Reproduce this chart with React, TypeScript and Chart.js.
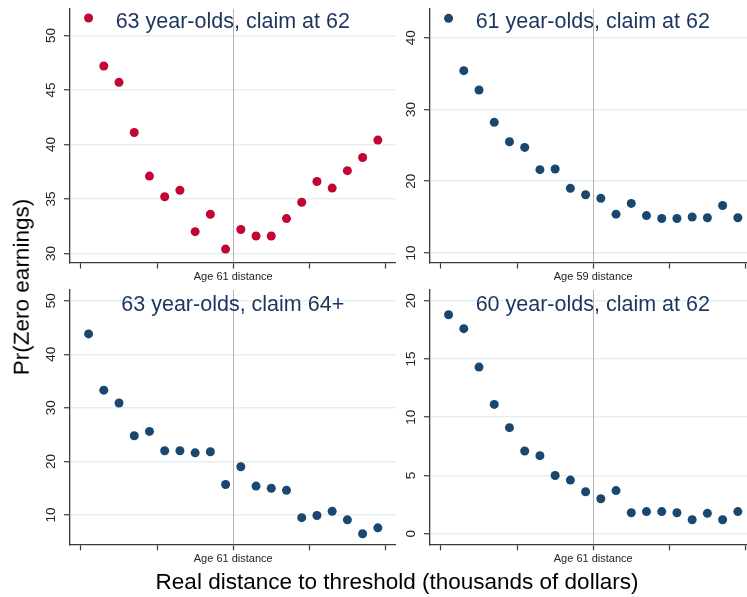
import React, { useEffect, useRef } from "react";
import { Chart, registerables } from "chart.js";

Chart.register(...registerables);

// ---- data ----
const binCenters = [-9.5, -8.5, -7.5, -6.5, -5.5, -4.5, -3.5, -2.5, -1.5, -0.5, 0.5, 1.5, 2.5, 3.5, 4.5, 5.5, 6.5, 7.5, 8.5, 9.5];
const referenceX = 0;

const titles = [
  "63 year-olds, claim at 62",
  "61 year-olds, claim at 62",
  "63 year-olds, claim 64+",
  "60 year-olds, claim at 62",
];
const centerTickLabels = ["Age 61 distance", "Age 59 distance", "Age 61 distance", "Age 61 distance"];

const age63Claim62 = [51.6, 47.2, 45.7, 41.1, 37.1, 35.2, 35.8, 32.0, 33.6, 30.4, 32.2, 31.6, 31.6, 33.2, 34.7, 36.6, 36.0, 37.6, 38.8, 40.4];
const age61Claim62 = [42.7, 35.4, 32.7, 28.2, 25.5, 24.7, 21.6, 21.7, 19.0, 18.1, 17.6, 15.4, 16.9, 15.2, 14.8, 14.8, 15.0, 14.9, 16.6, 14.9];
const age63Claim64 = [43.8, 33.3, 30.9, 24.8, 25.6, 22.0, 22.0, 21.6, 21.8, 15.7, 19.0, 15.4, 15.0, 14.6, 9.5, 9.9, 10.7, 9.1, 6.5, 7.6];
const age60Claim62 = [18.8, 17.6, 14.3, 11.1, 9.1, 7.1, 6.7, 5.0, 4.6, 3.6, 3.0, 3.7, 1.8, 1.9, 1.9, 1.8, 1.2, 1.75, 1.2, 1.9];

const seriesList = [age63Claim62, age61Claim62, age63Claim64, age60Claim62];
const xTickStep = 5;
const yTickSteps = [5, 10, 10, 5];
const xRange = [-10.72, 10.66];
const yRanges = [
  [29.17, 52.43],
  [8.66, 44.0],
  [4.53, 52.0],
  [-0.91, 20.92],
];

// ---- styles / layout ----
const RED = "#c10534";
const NAVY = "#1a476f";
const TITLE = "#1c355e";
const AXIS = "#3a3a3a";
const GRID = "#e6efef";
const FONT = '"Liberation Sans", Arial, Helvetica, sans-serif';

const panelBoxes = [
  { left: 0, top: 0, padTop: 9, xHeight: 27.5, titleY: 28.3, color: RED },
  { left: 360, top: 0, padTop: 9, xHeight: 27.5, titleY: 28.3, color: NAVY },
  { left: 0, top: 280, padTop: 10, xHeight: 25.7, titleY: 31, color: NAVY },
  { left: 360, top: 280, padTop: 10, xHeight: 25.7, titleY: 31, color: NAVY },
];
const CW = 400;
const CH = 290;

const decorPlugin = {
  id: "panelDecor",
  beforeDatasetsDraw(chart: any, _args: any, opts: any) {
    const { ctx, chartArea, scales } = chart;
    const px = Math.round(scales.x.getPixelForValue(opts.refX)) + 0.5;
    ctx.save();
    ctx.strokeStyle = "#b5b5b5";
    ctx.lineWidth = 1;
    ctx.beginPath();
    ctx.moveTo(px, chartArea.top);
    ctx.lineTo(px, chartArea.bottom);
    ctx.stroke();
    ctx.restore();
  },
  afterDatasetsDraw(chart: any, _args: any, opts: any) {
    const { ctx, chartArea } = chart;
    ctx.save();
    ctx.font = `21.5px ${FONT}`;
    ctx.fillStyle = TITLE;
    ctx.textAlign = "center";
    ctx.textBaseline = "alphabetic";
    ctx.fillText(opts.title, (chartArea.left + chartArea.right) / 2, opts.titleY);
    ctx.restore();
  },
};

function Panel({ index }: { index: number }) {
  const ref = useRef<HTMLCanvasElement | null>(null);
  useEffect(() => {
    if (!ref.current) return;
    const box = panelBoxes[index];
    const values = seriesList[index];
    const chart = new Chart(ref.current, {
      type: "scatter",
      data: {
        datasets: [
          {
            data: binCenters.map((x, i) => ({ x, y: values[i] })),
            backgroundColor: box.color,
            borderWidth: 0,
            pointRadius: 4.5,
            pointHoverRadius: 4.5,
          },
        ],
      },
      options: {
        animation: false,
        responsive: false,
        events: [],
        layout: { padding: { left: 0, top: box.padTop, right: 4, bottom: 0 } },
        plugins: {
          legend: { display: false },
          tooltip: { enabled: false },
          panelDecor: { refX: referenceX, title: titles[index], titleY: box.titleY },
        } as any,
        scales: {
          x: {
            type: "linear",
            min: xRange[0],
            max: xRange[1],
            afterFit: (s: any) => {
              s.height = box.xHeight;
              s.paddingLeft = 0;
              s.paddingRight = 0;
            },
            border: { display: true, color: AXIS, width: 1.3 },
            grid: { drawOnChartArea: false, drawTicks: true, tickLength: 6, tickColor: AXIS, tickWidth: 1.2 },
            ticks: {
              stepSize: xTickStep,
              includeBounds: false,
              autoSkip: false,
              maxRotation: 0,
              minRotation: 0,
              padding: 2,
              color: "#222",
              font: { family: FONT, size: 11 },
              callback: (v: any) => (Number(v) === referenceX ? centerTickLabels[index] : ""),
            },
          },
          y: {
            type: "linear",
            min: yRanges[index][0],
            max: yRanges[index][1],
            afterFit: (s: any) => {
              s.width = 70;
              s.paddingTop = 0;
              s.paddingBottom = 0;
            },
            border: { display: true, color: AXIS, width: 1.3 },
            grid: { drawOnChartArea: true, color: GRID, lineWidth: 1.5, drawTicks: true, tickLength: 6, tickColor: AXIS, tickWidth: 1.2 },
            ticks: {
              stepSize: yTickSteps[index],
              includeBounds: false,
              autoSkip: false,
              minRotation: 90,
              maxRotation: 90,
              crossAlign: "center",
              padding: 5,
              color: "#222",
              font: { family: FONT, size: 13.5 },
            },
          },
        },
      },
      plugins: [decorPlugin],
    } as any);
    return () => chart.destroy();
  }, [index]);
  const box = panelBoxes[index];
  return (
    <canvas
      ref={ref}
      width={CW}
      height={CH}
      style={{ position: "absolute", left: box.left, top: box.top, width: CW, height: CH }}
    />
  );
}

export default function App() {
  return (
    <div
      style={{
        position: "absolute",
        left: 0,
        top: 0,
        width: 747,
        height: 597,
        overflow: "hidden",
        background: "#ffffff",
        fontFamily: FONT,
      }}
    >
      {[0, 1, 2, 3].map((i) => (
        <Panel key={i} index={i} />
      ))}
      <div
        style={{
          position: "absolute",
          left: 21.75,
          top: 287,
          width: 300,
          height: 22.5,
          lineHeight: "22.5px",
          fontSize: 22.5,
          textAlign: "center",
          whiteSpace: "nowrap",
          color: "#000",
          transform: "translate(-50%, -50%) rotate(-90deg)",
        }}
      >
        Pr(Zero earnings)
      </div>
      <div
        style={{
          position: "absolute",
          left: 397,
          top: 570.5,
          lineHeight: "22.5px",
          fontSize: 22.5,
          whiteSpace: "nowrap",
          color: "#000",
          transform: "translateX(-50%)",
        }}
      >
        Real distance to threshold (thousands of dollars)
      </div>
    </div>
  );
}
